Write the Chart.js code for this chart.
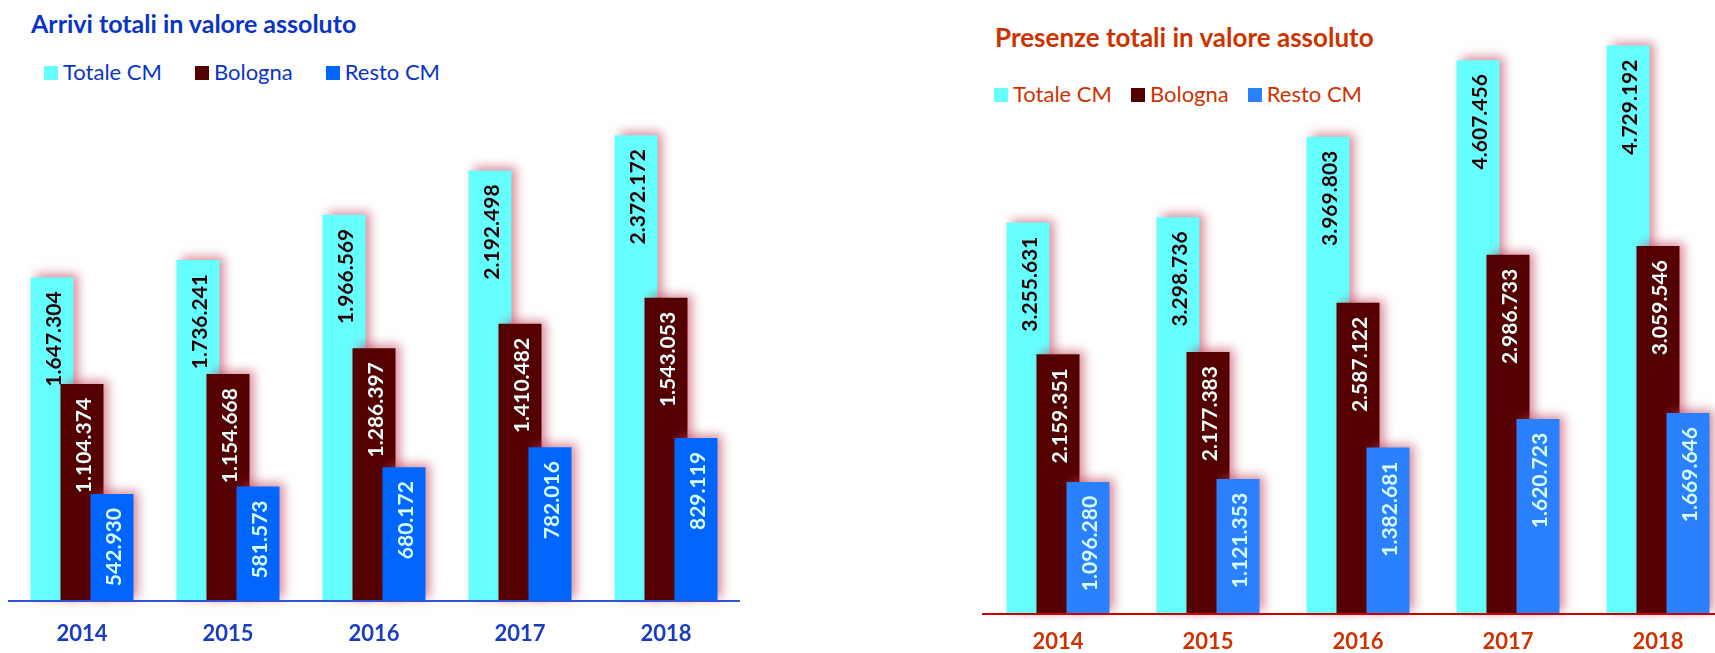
<!DOCTYPE html>
<html lang="it">
<head>
<meta charset="utf-8">
<script src="https://cdn.jsdelivr.net/npm/chart.js@4.4.1/dist/chart.umd.min.js"></script>
<style>
    html, body { margin: 0; padding: 0; background: #fff; }
    body { width: 1715px; height: 653px; position: relative; overflow: hidden; font-family: Lato, "Open Sans", sans-serif; }
    canvas { position: absolute; top: 0; }
    #cArrivi { left: 0; }
    #cPresenze { left: 950px; }
    .titolo { position: absolute; font-weight: bold; font-size: 25px; line-height: 30px; white-space: nowrap; }
    .legenda { position: absolute; display: flex; font-size: 22px; line-height: 26px; white-space: nowrap; }
    .legenda span.voce { display: flex; align-items: center; }
    .legenda i { display: inline-block; width: 14px; height: 14px; margin-right: 5px; margin-top: 1px; }
</style>
</head>
<body>
<div class="titolo" id="tArrivi" style="left:31px; top:8px; color:#0a34c8;">Arrivi totali in valore assoluto</div>
<div class="legenda" id="lArrivi" style="left:44px; top:59px; color:#0a34c8;"></div>
<div class="titolo" id="tPresenze" style="left:995px; top:22px; font-size:26px; color:#cc3300;">Presenze totali in valore assoluto</div>
<div class="legenda" id="lPresenze" style="left:994px; top:81px; color:#cc3300;"></div>

<canvas id="cArrivi" width="745" height="670"></canvas>
<canvas id="cPresenze" width="790" height="670"></canvas>

<script>
const anni = ["2014", "2015", "2016", "2017", "2018"];
const serie = ["Totale CM", "Bologna", "Resto CM"];

const arriviTotale = [1647304, 1736241, 1966569, 2192498, 2372172];
const arriviBologna = [1104374, 1154668, 1286397, 1410482, 1543053];
const arriviResto = [542930, 581573, 680172, 782016, 829119];

const presenzeTotale = [3255631, 3298736, 3969803, 4607456, 4729192];
const presenzeBologna = [2159351, 2177383, 2587122, 2986733, 3059546];
const presenzeResto = [1096280, 1121353, 1382681, 1620723, 1669646];

const coloriArrivi = ["#66ffff", "#550000", "#0066ff"];
const coloriPresenze = ["#66ffff", "#550000", "#2a80ff"];
const coloriEtichette = ["#2a0505", "#e8fbfb", "#d8ffff"];

// numero con il punto come separatore delle migliaia
function formatta(n) {
    return String(n).replace(/\B(?=(\d{3})+(?!\d))/g, ".");
}

function creaLegenda(id, colori, spazio) {
    const box = document.getElementById(id);
    serie.forEach((nome, i) => {
        const voce = document.createElement("span");
        voce.className = "voce";
        voce.style.marginRight = spazio + "px";
        voce.innerHTML = `<i style="background:${colori[i]}"></i>${nome}`;
        box.appendChild(voce);
    });
}

// barre disegnate nell'ordine della serie (Totale sotto, Resto sopra) con ombra rosata
const ombra = {
    id: "ombra",
    beforeDatasetsDraw(chart) {
        const ctx = chart.ctx;
        ctx.save();
        ctx.shadowColor = "rgba(190, 60, 85, 0.6)";
        ctx.shadowBlur = 10;
        ctx.shadowOffsetX = 5;
        ctx.shadowOffsetY = -3;
        for (let i = 0; i < chart.data.datasets.length; i++) {
            chart.getDatasetMeta(i).controller.draw();
        }
        ctx.restore();
        return false;
    }
};

// valori ruotati dentro le barre
const etichette = {
    id: "etichette",
    afterDraw(chart) {
        const ctx = chart.ctx;
        chart.data.datasets.forEach((ds, i) => {
            const meta = chart.getDatasetMeta(i);
            meta.data.forEach((bar, j) => {
                ctx.save();
                ctx.translate(bar.x + 2, bar.y + 14);
                ctx.rotate(-Math.PI / 2);
                ctx.textAlign = "right";
                ctx.textBaseline = "middle";
                ctx.fillStyle = coloriEtichette[i];
                ctx.font = "bold 21px Lato";
                ctx.fillText(formatta(ds.data[j]), 0, 0);
                ctx.restore();
            });
        });
    }
};

function creaGrafico(id, valori, colori, cfg) {
    return new Chart(document.getElementById(id), {
        type: "bar",
        data: {
            labels: anni,
            datasets: valori.map((v, i) => ({
                label: serie[i],
                data: v,
                backgroundColor: colori[i],
                borderWidth: 0
            }))
        },
        options: {
            responsive: false,
            animation: false,
            layout: { padding: cfg.padding },
            datasets: {
                bar: { categoryPercentage: cfg.categoria, barPercentage: 1.433 }
            },
            plugins: {
                legend: { display: false },
                title: { display: false },
                tooltip: { enabled: false }
            },
            scales: {
                x: {
                    grid: { display: false, drawTicks: false },
                    border: { display: true, color: cfg.asse, width: 2, z: 1 },
                    ticks: {
                        color: cfg.testo,
                        padding: cfg.tickPad,
                        font: { family: "Lato", weight: "bold", size: 22 }
                    }
                },
                y: { display: false, min: 0, max: cfg.max }
            }
        },
        plugins: [ombra, etichette]
    });
}

creaLegenda("lArrivi", coloriArrivi, 33);
creaLegenda("lPresenze", coloriPresenze, 19);

creaGrafico("cArrivi", [arriviTotale, arriviBologna, arriviResto], coloriArrivi, {
    padding: { top: 12, left: 9, right: 6, bottom: 3 },
    categoria: 0.6164,
    asse: "#2f55d4",
    testo: "#1a3cc0",
    tickPad: 20,
    max: 3000000
});

creaGrafico("cPresenze", [presenzeTotale, presenzeBologna, presenzeResto], coloriPresenze, {
    padding: { top: 13, left: 33, right: 7, bottom: 0 },
    categoria: 0.6,
    asse: "#cc0000",
    testo: "#cc3300",
    tickPad: 15,
    max: 5000000
});
</script>
</body>
</html>
